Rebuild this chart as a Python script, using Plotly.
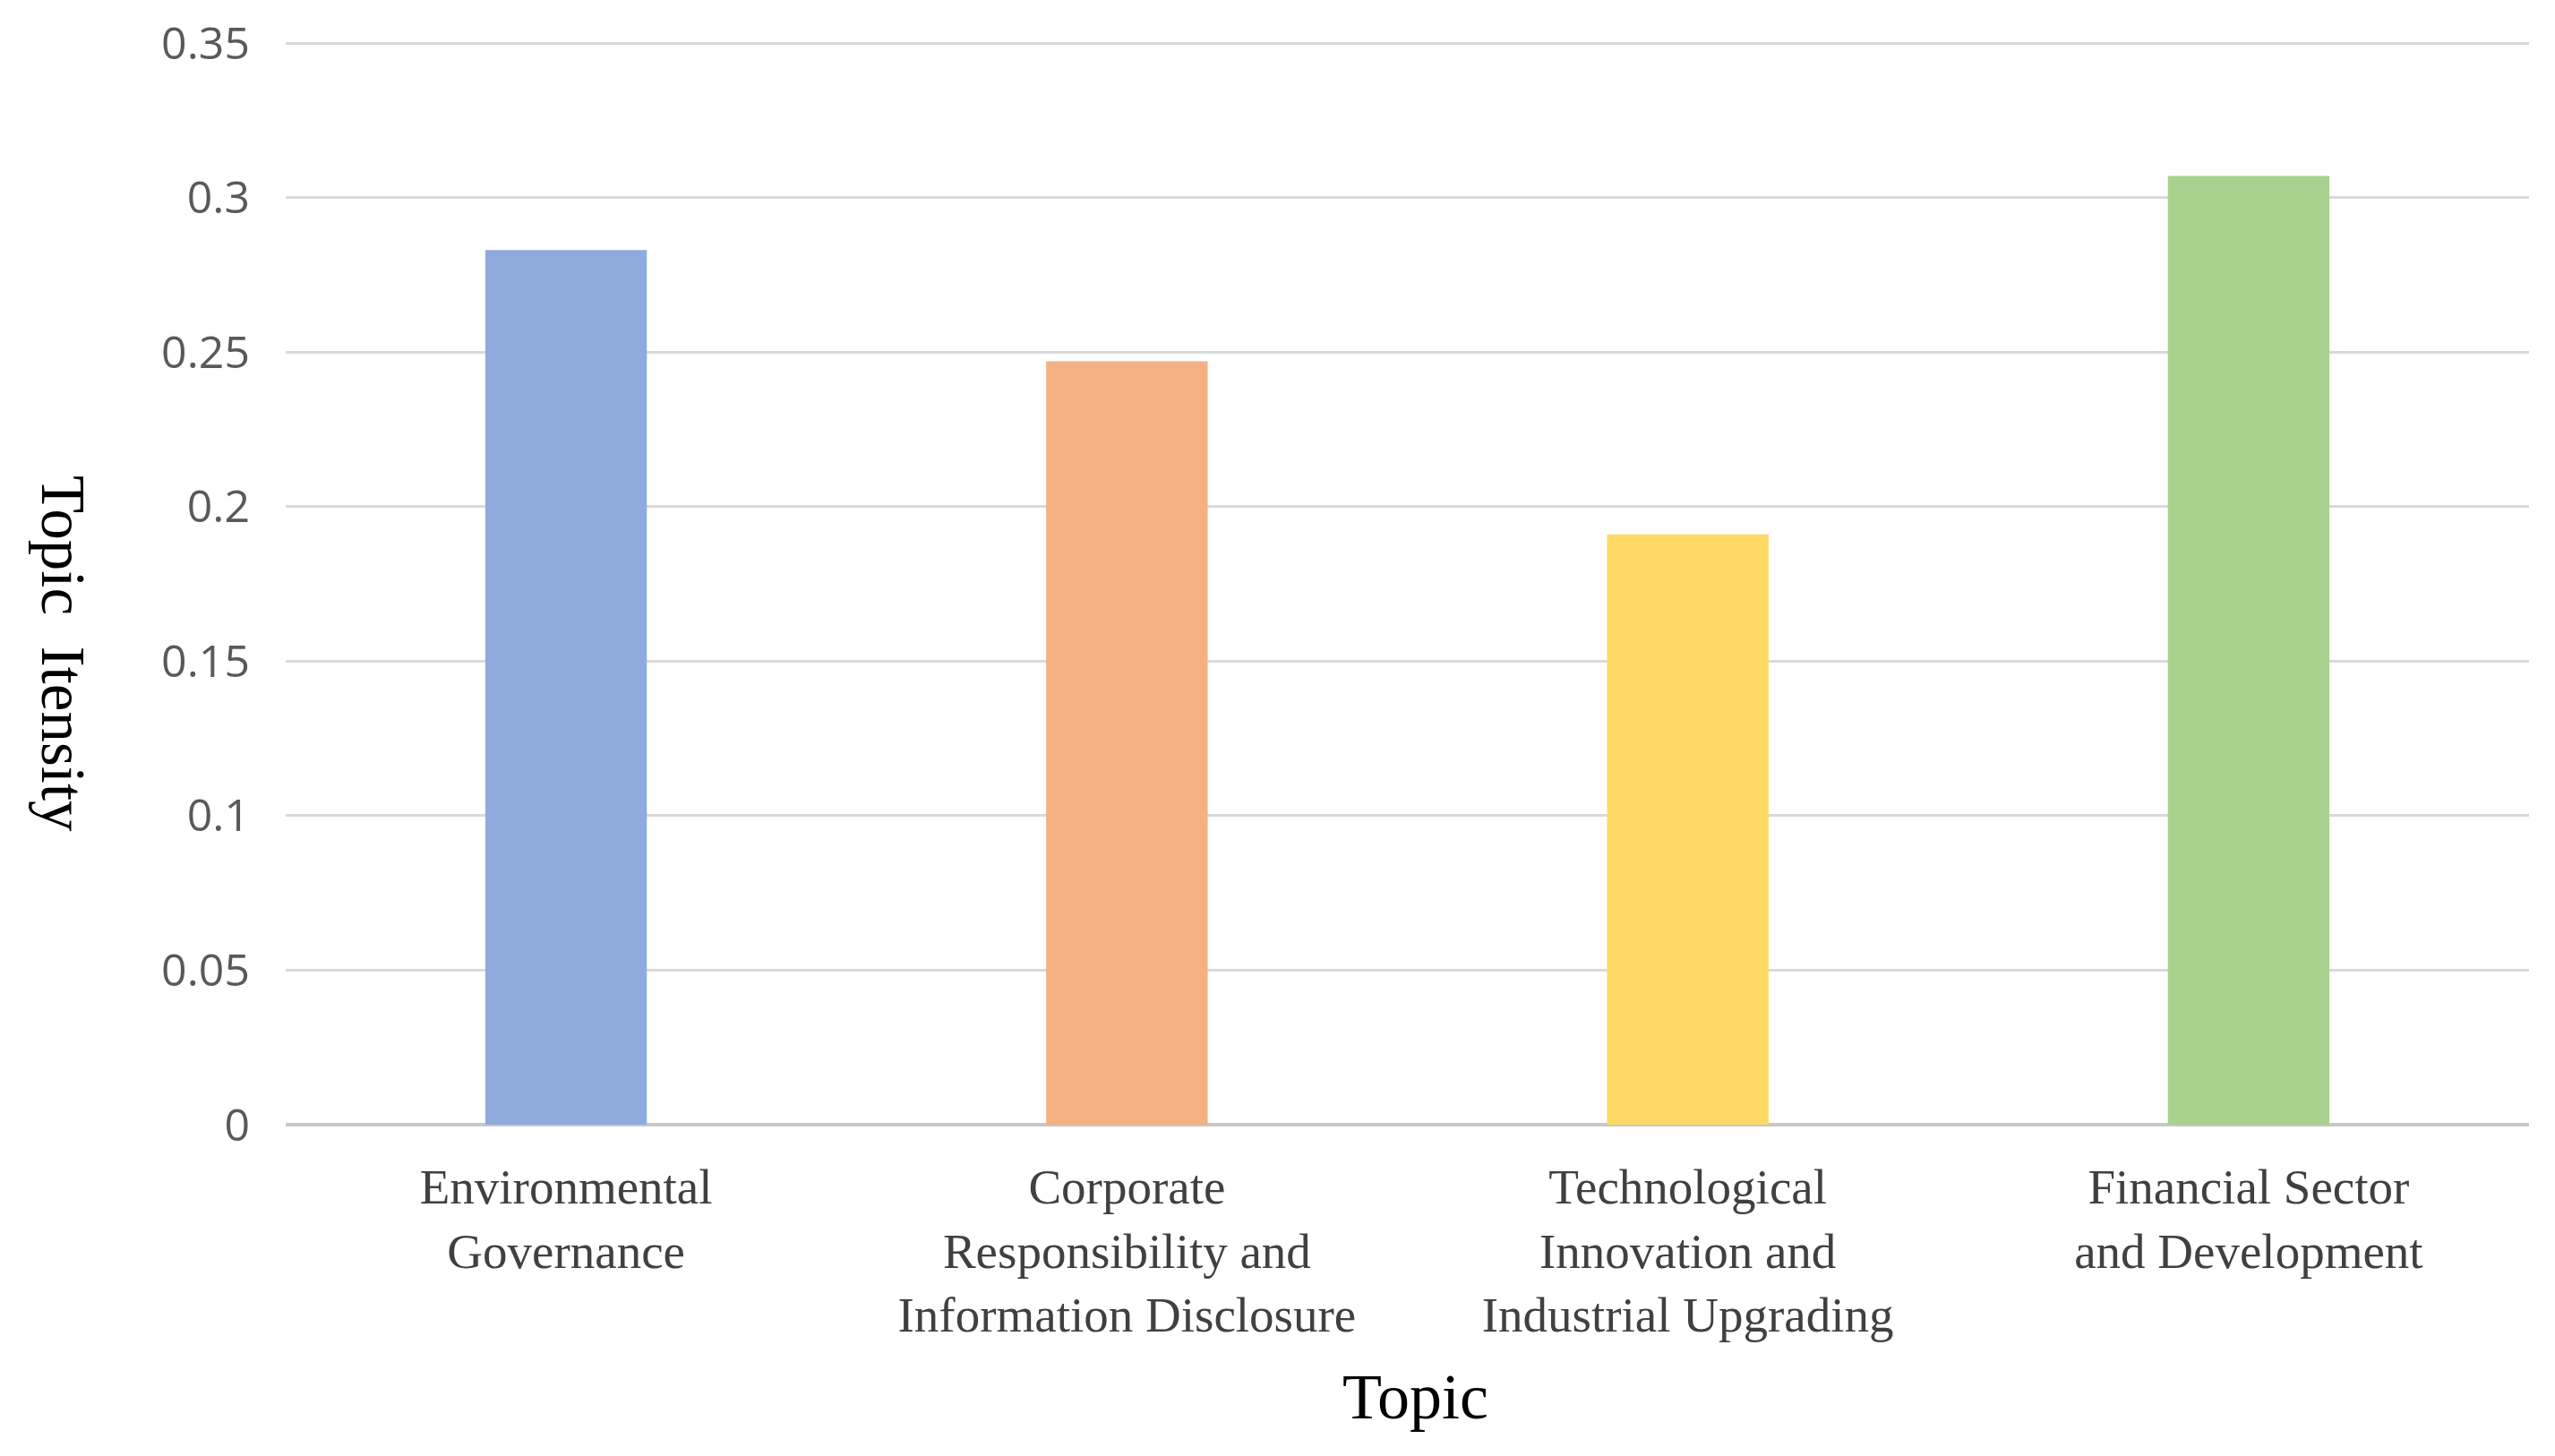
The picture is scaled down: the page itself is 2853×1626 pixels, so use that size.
import plotly.graph_objects as go

categories = [
    "Environmental<br>Governance",
    "Corporate<br>Responsibility and<br>Information Disclosure",
    "Technological<br>Innovation and<br>Industrial Upgrading",
    "Financial Sector<br>and Development",
]
values = [0.283, 0.247, 0.191, 0.307]
colors = ["#8FAADC", "#F4B183", "#FFD966", "#A9D18E"]
y_ticks = [0, 0.05, 0.1, 0.15, 0.2, 0.25, 0.3, 0.35]
y_tick_labels = ["0", "0.05", "0.1", "0.15", "0.2", "0.25", "0.3", "0.35"]

# page body has an 8px margin; size the figure so it fills the window exactly
OFF = 8
W, H = 2853 - OFF, 1626 - OFF
L, R, T, B = 319 - OFF, 29, 47 - OFF, 370
plot_w = W - L - R
plot_h = H - T - B


def px_x(abs_x):
    return (abs_x - OFF - L) / plot_w


def px_y(abs_y):
    return 1 - (abs_y - OFF - T) / plot_h


fig = go.Figure(go.Bar(x=categories, y=values, marker=dict(color=colors, line=dict(width=0)),
                       width=0.288))

serif = "Liberation Serif, Times New Roman, serif"
fig.update_layout(
    width=W, height=H,
    margin=dict(l=L, r=R, t=T, b=B, autoexpand=False),
    paper_bgcolor="white", plot_bgcolor="white",
    showlegend=False,
    xaxis=dict(
        tickfont=dict(family=serif, size=55, color="#404040"),
        showgrid=False, showline=False, zeroline=False, automargin=False,
        ticks="", ticklabelstandoff=32,
    ),
    yaxis=dict(
        range=[0, 0.3503], automargin=False,
        tickvals=y_ticks, ticktext=y_tick_labels,
        tickfont=dict(family="Open Sans, sans-serif", size=50, color="#595959"),
        showgrid=True, gridcolor="#D9D9D9", gridwidth=3,
        zeroline=True, zerolinecolor="#C8C8C8", zerolinewidth=4,
        showline=False, ticks="", ticklabelstandoff=39,
    ),
    annotations=[
        dict(text="Topic", xref="paper", yref="paper", x=px_x(1580), y=px_y(1560),
             xanchor="center", yanchor="middle",
             showarrow=False, font=dict(family=serif, size=72, color="#000000")),
        dict(text="Topic\u00a0 Itensity", xref="paper", yref="paper", x=px_x(70), y=px_y(730),
             xanchor="center", yanchor="middle", textangle=90,
             showarrow=False, font=dict(family=serif, size=69, color="#000000")),
    ],
)

fig.write_html("out.html")
